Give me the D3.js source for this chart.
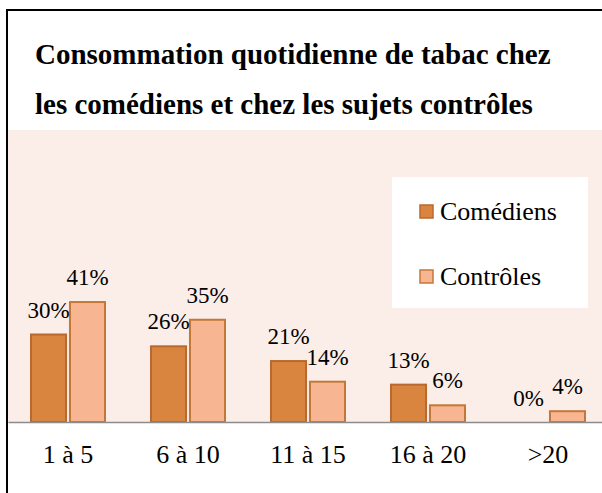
<!DOCTYPE html>
<html><head><meta charset="utf-8"><script src="https://cdn.jsdelivr.net/npm/d3@7"></script></head>
<body style="margin:0">
<script>
const categories = ["1 à 5", "6 à 10", "11 à 15", "16 à 20", ">20"];
const seriesNames = ["Comédiens", "Contrôles"];
const comediens = [30, 26, 21, 13, 0];
const controles = [41, 35, 14, 6, 4];
const titleLines = ["Consommation quotidienne de tabac chez", "les comédiens et chez les sujets contrôles"];

const W = 602, H = 493;
const fills = { "Comédiens": "#d9843f", "Contrôles": "#f8b591" };
const strokes = { "Comédiens": "#b8692f", "Contrôles": "#c47838" };
const setFont = sel => sel.style("font-family", '"Times New Roman", "Liberation Serif", serif');

const svg = d3.select("body").append("svg").attr("width", W).attr("height", H);

const plot = { left: 8, right: 608, top: 130, bottom: 422 };

svg.append("rect").attr("x", plot.left).attr("y", plot.top)
  .attr("width", plot.right - plot.left).attr("height", plot.bottom - plot.top)
  .attr("fill", "#fbede8");

svg.append("rect").attr("x", 7).attr("y", 10).attr("width", 800).attr("height", 700)
  .attr("fill", "none").attr("stroke", "#000").attr("stroke-width", 2);

svg.selectAll("text.title").data(titleLines).join("text").attr("class", "title")
  .attr("x", 35).attr("y", (d, i) => 64 + i * 50)
  .attr("font-size", 29).attr("font-weight", "bold")
  .call(setFont)
  .text(d => d);

const x0 = d3.scaleBand().domain(categories).range([plot.left, plot.right])
  .paddingInner(0.3667).paddingOuter(0.3667 / 2);
const x1 = d3.scaleBand().domain(seriesNames).range([0, x0.bandwidth()]).paddingInner(0.05);
const y = d3.scaleLinear().domain([0, 100]).range([plot.bottom, plot.bottom - 295]);

const flat = [];
categories.forEach((c, i) => {
  flat.push({ cat: c, s: "Comédiens", v: comediens[i] });
  flat.push({ cat: c, s: "Contrôles", v: controles[i] });
});

svg.selectAll("rect.bar").data(flat.filter(d => d.v > 0)).join("rect").attr("class", "bar")
  .attr("x", d => x0(d.cat) + x1(d.s) + 1).attr("width", x1.bandwidth() - 2)
  .attr("y", d => y(d.v) + 1).attr("height", d => y(0) - y(d.v) - 1)
  .attr("fill", d => fills[d.s]).attr("stroke", d => strokes[d.s]).attr("stroke-width", 2);

svg.selectAll("text.lbl").data(flat).join("text").attr("class", "lbl")
  .attr("x", d => x0(d.cat) + x1(d.s) + x1.bandwidth() / 2)
  .attr("y", d => y(d.v) - 16)
  .attr("text-anchor", "middle").attr("font-size", 23)
  .call(setFont)
  .text(d => d.v + "%");

// axis line
const ax = svg.append("g").attr("transform", `translate(0,${plot.bottom})`)
  .call(d3.axisBottom(x0).tickSize(0).tickValues([]));
ax.select(".domain").attr("stroke", "#8c8c8c").attr("stroke-width", 1.5);

// category labels
svg.selectAll("text.cat").data(categories).join("text").attr("class", "cat")
  .attr("x", d => x0(d) + x0.bandwidth() / 2).attr("y", plot.bottom + 41)
  .attr("text-anchor", "middle").attr("font-size", 26)
  .call(setFont)
  .text(d => d);

// legend
svg.append("rect").attr("x", 392).attr("y", 177).attr("width", 196).attr("height", 131).attr("fill", "#fff");
svg.selectAll("rect.sw").data(seriesNames).join("rect").attr("class", "sw")
  .attr("x", 420).attr("y", (d, i) => 205 + i * 65).attr("width", 13).attr("height", 13)
  .attr("fill", d => fills[d]).attr("stroke", d => strokes[d]).attr("stroke-width", 1.5);
svg.selectAll("text.lg").data(seriesNames).join("text").attr("class", "lg")
  .attr("x", 440).attr("y", (d, i) => 220 + i * 65).attr("font-size", 26)
  .call(setFont)
  .text(d => d);
</script>
</body></html>
